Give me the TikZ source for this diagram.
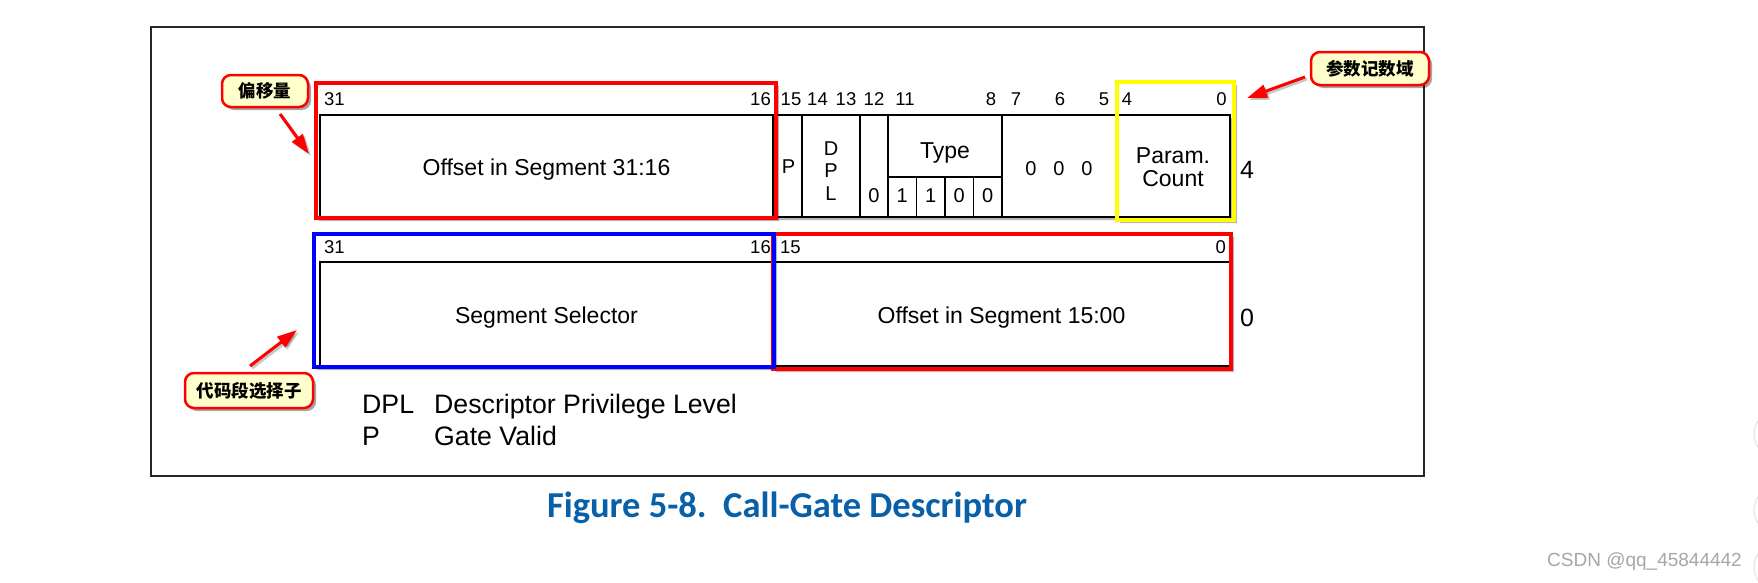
\documentclass[tikz,border=0pt]{standalone}
\usepackage{fontspec}
\setmainfont{Liberation Sans}
\newfontfamily\cjk{Noto Sans CJK SC}
\newfontfamily\capfont{Carlito}
\usetikzlibrary{arrows.meta,shadows,fit}
\definecolor{bubblefill}{RGB}{255,255,204}
\definecolor{capblue}{RGB}{8,96,168}
\definecolor{hred}{RGB}{255,0,0}
\definecolor{hblue}{RGB}{0,0,255}
\definecolor{hyellow}{RGB}{255,255,0}
\newcommand{\lshadow}[2]{%
  \fill[black,opacity=0.28] ([xshift=#2]#1.south west) -- ([xshift=#2,yshift=-#2]#1.south west) -- ([xshift=#2,yshift=-#2]#1.south east) -- ([xshift=#2,yshift=-#2]#1.north east) -- ([yshift=-#2]#1.north east) -- (#1.south east) -- cycle;}
\begin{document}
\begin{tikzpicture}[x=1pt,y=-1pt,
  cell/.style={draw=black,line width=1.6pt,inner sep=0pt},
  rowbox/.style={draw=black,line width=2.2pt,inner sep=0pt},
  hl/.style={draw=#1,line width=3.5pt,inner sep=0pt},
  bit/.style={font=\fontsize{18.5}{20}\selectfont,inner sep=0pt,anchor=base},
  txt/.style={font=\fontsize{23}{26}\selectfont,inner sep=0pt,anchor=base},
  sm/.style={font=\fontsize{20}{22}\selectfont,inner sep=0pt,anchor=base},
  legend/.style={font=\fontsize{26.7}{30}\selectfont,inner sep=0pt,anchor=base west},
  bubble/.style={draw=hred,line width=2.5pt,fill=bubblefill,rounded corners=9pt,inner sep=0pt,
    font=\cjk\bfseries\fontsize{17.5}{19}\selectfont,
    drop shadow={shadow xshift=3pt,shadow yshift=-3pt,opacity=0.35,fill=black}},
  callout/.style={draw=hred,line width=3pt,-{Triangle[length=20pt,width=13pt]}},
  calloutshadow/.style={draw=black,opacity=0.22,line width=3pt,-{Triangle[length=20pt,width=13pt]}},
  sidecircle/.style={draw=gray!22,line width=1pt,fill=white}
]
\useasboundingbox (0,0) rectangle (1758,582);
\fill[white] (0,0) rectangle (1758,582);

% side UI circles at the right edge
\begin{scope}
  \clip (0,0) rectangle (1758,582);
  \draw[sidecircle] (1778,434) circle (24);
  \draw[sidecircle] (1778,510) circle (24);
  \draw[sidecircle] (1778,567) circle (24);
\end{scope}

% outer frame
\node[draw=black!85,line width=2.2pt,inner sep=0pt,fit={(151,27) (1424,476)}] (frame) {};

% ---------- row 1 ----------
\node[inner sep=0pt,fit={(320,115) (1230,217)}] (row1) {};
\lshadow{row1}{3pt}
\node[cell,fit={(320,115) (773,217)}] (off1) {};
\node[cell,fit={(773,115) (802,217)}] (cP) {};
\node[cell,fit={(802,115) (860,217)}] (cDPL) {};
\node[cell,fit={(860,115) (888,217)}] (c12) {};
\node[cell,fit={(888,115) (1002,177)}] (cType) {};
\node[cell,fit={(888,177) (916.5,217)}] (t11) {};
\node[cell,fit={(916.5,177) (945,217)}] (t10) {};
\node[cell,fit={(945,177) (973.5,217)}] (t9) {};
\node[cell,fit={(973.5,177) (1002,217)}] (t8) {};
\node[cell,fit={(1002,115) (1117,217)}] (c75) {};
\node[cell,fit={(1117,115) (1230,217)}] (cPC) {};
\node[rowbox,fit={(320,115) (1230,217)}] (row1b) {};

% bit numbers row 1
\node[bit,anchor=base west] (b31) at (324,105) {31};
\node[bit,anchor=base east] (b16) at (771,105) {16};
\node[bit] (b15) at (791,105) {15};
\node[bit] (b14) at (817.5,105) {14};
\node[bit] (b13) at (846,105) {13};
\node[bit] (b12) at (874,105) {12};
\node[bit] (b11) at (905,105) {11};
\node[bit] (b8) at (991,105) {8};
\node[bit] (b7) at (1016,105) {7};
\node[bit] (b6) at (1060,105) {6};
\node[bit] (b5) at (1104,105) {5};
\node[bit] (b4) at (1127,105) {4};
\node[bit] (b0) at (1221.5,105) {0};

% contents row 1
\node[txt] (toff1) at (546.5,175) {Offset in Segment 31:16};
\node[sm] (tP) at (788.5,173) {P};
\node[sm] (tD1) at (831,155) {D};
\node[sm] (tD2) at (831,177.5) {P};
\node[sm] (tD3) at (831,200) {L};
\node[sm] (t12) at (874,202) {0};
\node[txt] (tType) at (945,158) {Type};
\node[sm] (v11) at (902.25,202) {1};
\node[sm] (v10) at (930.75,202) {1};
\node[sm] (v9) at (959.25,202) {0};
\node[sm] (v8) at (987.75,202) {0};
\node[sm] (z7) at (1031,175) {0};
\node[sm] (z6) at (1059,175) {0};
\node[sm] (z5) at (1087,175) {0};
\node[txt] (tPar) at (1173,163) {Param.};
\node[txt] (tCnt) at (1173,186) {Count};
\node[txt,font=\fontsize{25}{28}\selectfont] (off4) at (1247,178) {4};

% ---------- row 2 ----------
\node[inner sep=0pt,fit={(320,262) (1230,366)}] (row2) {};
\lshadow{row2}{3pt}
\node[cell,fit={(320,262) (773,366)}] (sel) {};
\node[cell,fit={(773,262) (1230,366)}] (off0) {};
\node[rowbox,fit={(320,262) (1230,366)}] (row2b) {};

\node[bit,anchor=base west] (c31) at (324,253) {31};
\node[bit,anchor=base east] (c16) at (771,253) {16};
\node[bit,anchor=base west] (c15) at (780,253) {15};
\node[bit,anchor=base east] (c0) at (1226,253) {0};

\node[txt] (tsel) at (546.5,323) {Segment Selector};
\node[txt] (toff0) at (1001.5,323) {Offset in Segment 15:00};
\node[txt,font=\fontsize{25}{28}\selectfont] (off0n) at (1247,326) {0};

% ---------- highlight boxes ----------
\node[inner sep=0pt,fit={(316,83) (776,218)}] (h1s) {};
\node[inner sep=0pt,fit={(1117,82) (1234,220)}] (h2s) {};
\node[inner sep=0pt,fit={(773,234) (1231,369)}] (h4s) {};
\node[inner sep=0pt,fit={(314,234) (774,367)}] (h3s) {};
\lshadow{h1s}{3pt}
\lshadow{h2s}{3pt}
\lshadow{h4s}{3pt}
\lshadow{h3s}{3pt}
\node[hl=hred,fit={(316,83) (776,218)}] (h1) {};
\node[hl=hyellow,fit={(1117,82) (1234,220)}] (h2) {};
\node[hl=hred,fit={(773,234) (1231,369)}] (h4) {};
\node[hl=hblue,fit={(314,234) (774,367)}] (h3) {};

% ---------- callouts ----------
\node[bubble,minimum width=86pt,minimum height=32pt] (bub1) at (265,91) {偏移量};
\node[bubble,minimum width=118pt,minimum height=33pt] (bub2) at (1370,68.5) {参数记数域};
\node[bubble,minimum width=128pt,minimum height=35pt] (bub3) at (249,390.5) {代码段选择子};

\coordinate (a1s) at (280,114);
\coordinate (a1e) at (309,154);
\coordinate (a2s) at (1305,77);
\coordinate (a2e) at (1247,98);
\coordinate (a3s) at (250,366);
\coordinate (a3e) at (297,330);
\draw[calloutshadow] ([xshift=2pt,yshift=-2pt]a1s) -- ([xshift=2pt,yshift=-2pt]a1e);
\draw[calloutshadow] ([xshift=2pt,yshift=-2pt]a2s) -- ([xshift=2pt,yshift=-2pt]a2e);
\draw[calloutshadow] ([xshift=2pt,yshift=-2pt]a3s) -- ([xshift=2pt,yshift=-2pt]a3e);
\draw[callout] (a1s) -- (a1e);
\draw[callout] (a2s) -- (a2e);
\draw[callout] (a3s) -- (a3e);

% ---------- legend ----------
\node[legend] (lgDPL) at (362,413) {DPL};
\node[legend] (lgDPLt) at (434,413) {Descriptor Privilege Level};
\node[legend] (lgP) at (362,445) {P};
\node[legend] (lgPt) at (434,445) {Gate Valid};

% ---------- caption ----------
\node[font=\capfont\bfseries\fontsize{36.5}{40}\selectfont,text=capblue,inner sep=0pt,anchor=base] (cap) at (787,517) {Figure 5-8.\ \ Call-Gate Descriptor};

% ---------- watermark ----------
\node[font=\fontsize{19}{22}\selectfont,text=gray!70,inner sep=0pt,anchor=base east] (wm) at (1742,566) {CSDN @qq\_45844442};
\end{tikzpicture}
\end{document}
